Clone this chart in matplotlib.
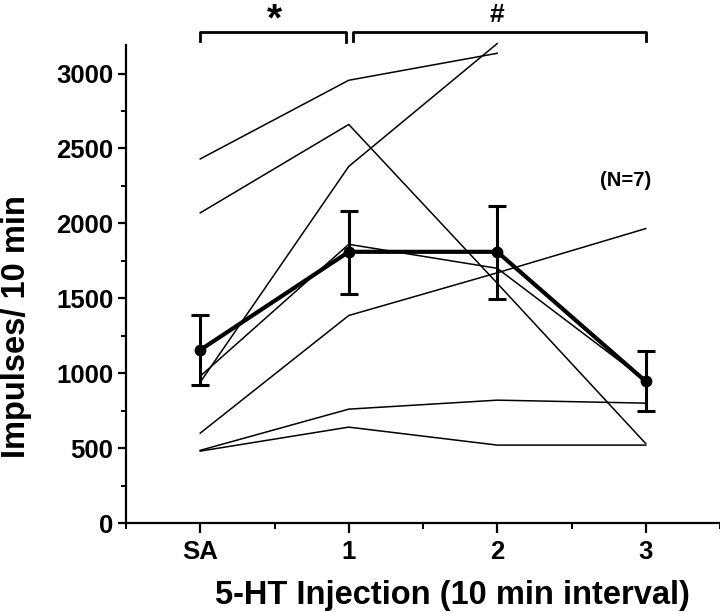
import matplotlib
matplotlib.use("Agg")
import matplotlib.pyplot as plt
from matplotlib.ticker import MultipleLocator

plt.rcParams['font.family'] = ['Liberation Sans', 'DejaVu Sans']
plt.rcParams['font.weight'] = 'bold'

# ---- data ----
x_labels = ['SA', '1', '2', '3']
x_pos = [0, 1, 2, 3]

sub_a = [2430, 2955, 3135]
sub_b = [2070, 2660, 1600, 530]
sub_c = [940, 2380, 3200]
sub_d = [600, 1385, 1670, 1965]
sub_e = [485, 760, 820, 800]
sub_f = [480, 640, 520, 520]
sub_g = [980, 1860, 1700, 950]
subjects = [sub_a, sub_b, sub_c, sub_d, sub_e, sub_f, sub_g]

mean_vals = [1155, 1810, 1810, 945]
err_upper = [1390, 2085, 2115, 1145]
err_lower = [920, 1530, 1495, 750]

sig_left = '*'
sig_right = '#'
n_text = '(N=7)'

# ---- figure ----
fig = plt.figure(figsize=(7.2, 6.12), dpi=100)
ax = fig.add_axes([0.175, 0.1454, 0.825, 0.781])

for s in subjects:
    ax.plot(x_pos[:len(s)], s, color='black', lw=1.1, clip_on=False, zorder=2)

yerr = [[m - lo for m, lo in zip(mean_vals, err_lower)],
        [hi - m for m, hi in zip(mean_vals, err_upper)]]
ax.errorbar(x_pos, mean_vals, yerr=yerr, color='black', lw=3.0,
            marker='o', markersize=7.5, elinewidth=2.2, capsize=6.5,
            capthick=2.2, zorder=3, clip_on=False)

ax.set_xlim(-0.5, 3.5)
ax.set_ylim(0, 3190)
ax.set_xticks(x_pos)
ax.set_xticklabels(x_labels)
ax.xaxis.set_minor_locator(MultipleLocator(0.5))
ax.yaxis.set_major_locator(MultipleLocator(500))
ax.yaxis.set_minor_locator(MultipleLocator(250))

for side in ['top', 'right']:
    ax.spines[side].set_visible(False)
for side in ['left', 'bottom']:
    ax.spines[side].set_linewidth(1.6)

ax.tick_params(axis='x', which='major', length=7, width=1.6, labelsize=18.5, pad=5)
ax.tick_params(axis='x', which='minor', length=4, width=1.4)
ax.tick_params(axis='y', which='major', length=6, width=1.6, labelsize=18.5, pad=3)
ax.tick_params(axis='y', which='minor', length=3.5, width=1.4)
for lab in ax.get_xticklabels() + ax.get_yticklabels():
    lab.set_fontweight('bold')

ax.set_xlabel('5-HT Injection (10 min interval)', fontsize=23.5, fontweight='bold')
ax.set_ylabel('Impulses/ 10 min', fontsize=23.5, fontweight='bold')
ax.xaxis.set_label_coords(0.549, -0.119)
ax.yaxis.set_label_coords(-0.158, 0.412)

# significance brackets
by, bleg = 3280, 3220
ax.plot([0, 0, 0.98, 0.98], [bleg, by, by, bleg - 10], color='black', lw=2.0, clip_on=False)
ax.plot([1.03, 1.03, 3, 3], [bleg, by, by, bleg], color='black', lw=2.0, clip_on=False)
ax.text(0.5, 3287, sig_left, ha='center', va='baseline', fontsize=28, fontweight='bold', clip_on=False)
ax.text(2.0, 3345, sig_right, ha='center', va='baseline', fontsize=19, fontweight='bold', clip_on=False)

ax.text(2.865, 2287, n_text, ha='center', va='center', fontsize=14.5, fontweight='bold')

fig.savefig('out.png', dpi=100)
